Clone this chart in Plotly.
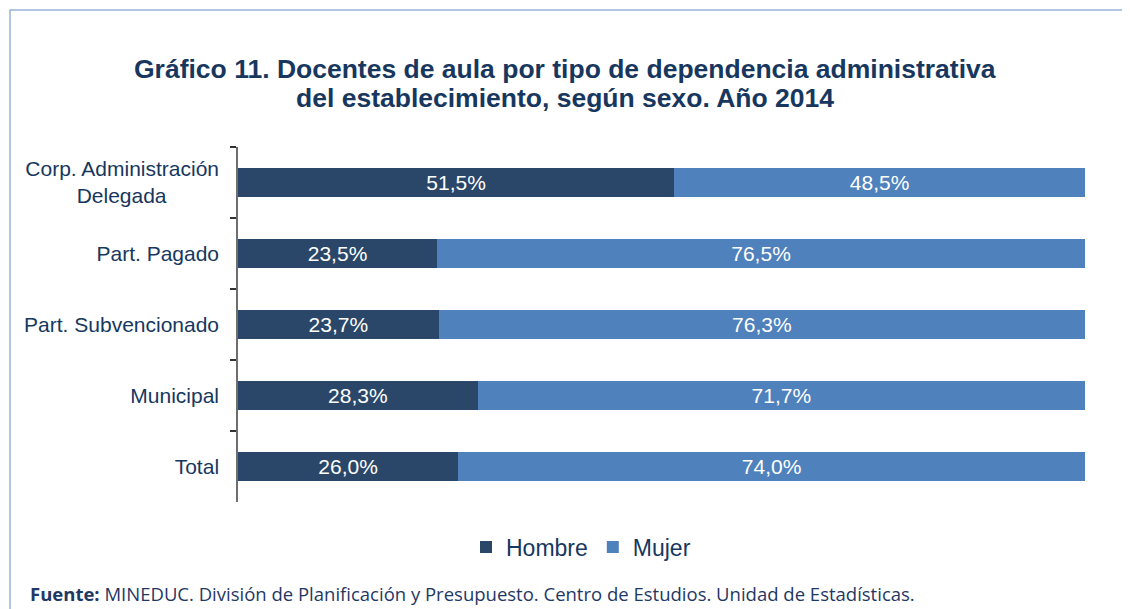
import plotly.graph_objects as go

NB = "\u00a0"
categories = ["Corp. Administración<br>Delegada" + NB * 9, "Part. Pagado", "Part. Subvencionado", "Municipal", "Total"]
hombre = [51.5, 23.5, 23.7, 28.3, 26.0]
mujer = [48.5, 76.5, 76.3, 71.7, 74.0]
series_names = ["Hombre", "Mujer"]
title_lines = ["Gráfico 11. Docentes de aula por tipo de dependencia administrativa",
               "del establecimiento, según sexo. Año 2014"]
source_text = "<b>Fuente:</b> MINEDUC. División de Planificación y Presupuesto. Centro de Estudios. Unidad de Estadísticas."

# page is rendered with an 8px body margin; work in page pixels
OX, OY = 8, 8
PAGE_W, PAGE_H = 1130, 609
W, H = PAGE_W - OX, PAGE_H - OY
AX_L, AX_R, AX_T, AX_B = 238, 1085, 147, 502  # plot area in page px
L, R, T, B = AX_L - OX, PAGE_W - AX_R, AX_T - OY, PAGE_H - AX_B
PW, PH = AX_R - AX_L, AX_B - AX_T

def px_x(x):
    return (x - AX_L) / PW

def px_y(y):
    return (AX_B - y) / PH

def fmt(v):
    return f"{v:.1f}".replace(".", ",") + "%"

C_H = "#2A476A"
C_M = "#4F81BD"
NAVY = "#17375E"
FONT = "Arial, Liberation Sans"

fig = go.Figure()
for name, vals, col in [(series_names[0], hombre, C_H), (series_names[1], mujer, C_M)]:
    fig.add_trace(go.Bar(
        y=categories, x=vals, name=name, orientation="h",
        marker=dict(color=col, line=dict(width=0)),
        text=[fmt(v) for v in vals], textposition="inside",
        insidetextanchor="middle", constraintext="none",
        textfont=dict(family=FONT, size=21, color="white"),
        hoverinfo="skip",
    ))

fig.update_layout(
    width=W, height=H,
    barmode="stack", bargap=0.6,
    margin=dict(l=L, r=R, t=T, b=B),
    paper_bgcolor="white", plot_bgcolor="white",
    font=dict(family=FONT, color=NAVY),
    xaxis=dict(range=[0, 100], visible=False, fixedrange=True),
    yaxis=dict(
        categoryorder="array", categoryarray=categories, autorange="reversed",
        showline=True, linecolor="#6E6E6E", linewidth=1.5,
        ticks="outside", tickson="boundaries", ticklen=6, tickcolor="#333333", tickwidth=1.5,
        ticklabelstandoff=13,
        tickfont=dict(family=FONT, size=21, color=NAVY),
        showgrid=False, fixedrange=True,
    ),
    legend=dict(
        orientation="h", x=px_x(581), xanchor="center", y=px_y(547), yanchor="middle",
        font=dict(family=FONT, size=23, color=NAVY),
        itemwidth=30, traceorder="normal", bgcolor="rgba(0,0,0,0)",
    ),
    showlegend=True,
)

fig.add_shape(
    type="rect", xref="paper", yref="paper",
    x0=px_x(10), x1=px_x(1200), y0=px_y(700), y1=px_y(10),
    line=dict(color="#95B3D7", width=1.5), fillcolor="rgba(0,0,0,0)", layer="below",
)

for line, yc in zip(title_lines, [69, 98]):
    fig.add_annotation(
        text=f"<b>{line}</b>", xref="paper", yref="paper",
        x=px_x(565), y=px_y(yc), xanchor="center", yanchor="middle",
        showarrow=False, font=dict(family=FONT, size=26.5, color=NAVY),
    )

fig.add_annotation(
    text=source_text,
    xref="paper", yref="paper", x=px_x(28), y=px_y(593), xanchor="left", yanchor="middle",
    showarrow=False, font=dict(family="Open Sans", size=18.5, color="#1F3864"),
)

fig.write_html("out.html")
